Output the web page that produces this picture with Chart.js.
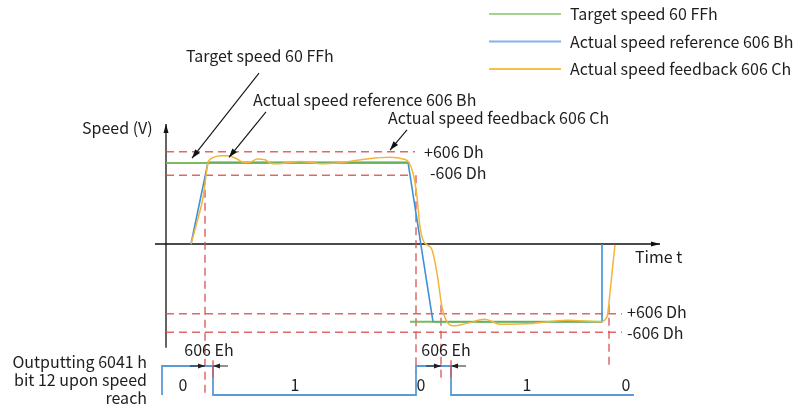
<!DOCTYPE html>
<html>
<head>
<meta charset="utf-8">
<script src="https://cdn.jsdelivr.net/npm/chart.js@4.4.1/dist/chart.umd.min.js"></script>
<style>
  html, body { margin: 0; padding: 0; background: #fff; }
  canvas { display: block; }
</style>
</head>
<body>
<canvas id="c" width="798" height="406"></canvas>
<script>
// ---- data (time in ms, speed in % of target) ----
const targetTime  = [0, 244, 244, 244, 436];
const targetSpeed = [100, 100, null, -96, -96];

const refTime  = [25, 42, 242, 267, 436, 436];
const refSpeed = [0, 101, 101, -96, -96, 0];

const fbTime  = [25, 31, 37, 42, 46, 54, 62, 71, 77, 84, 91, 99, 104, 111, 134, 157, 171, 201, 224, 237, 242, 247, 251, 254, 257, 261, 266, 271, 276, 280, 287, 301, 319, 334, 367, 401, 434, 441, 444, 446, 449];
const fbSpeed = [0, 27, 57, 100, 106, 109, 109, 105, 101, 101, 105, 104, 100, 99, 102, 99, 100, 105, 107, 105, 102, 88, 58, 21, 5, -1, -7, -36, -78, -94, -101, -98, -93, -99, -98, -94, -96, -90, -60, -36, -1];

// speed window thresholds (606 Dh) and where each dashed guide ends
const windowLevel  = [114, 85, -86, -109];
const windowEnd    = [249, 242, 456, 456];
const windowLabels = ['+606 Dh', '-606 Dh', '+606 Dh', '-606 Dh'];

// 6041h bit 12 (speed reached) signal
const bitTime  = [-4, 47, 250, 285, 443, 468];
const bitLevel = [0, 1, 0, 1, 0, 0];
const bitLabels = ['0', '1', '0', '1', '0'];
const bitLabelTime = [17, 129, 255, 361, 460];

// moments the feedback enters / leaves the window
const reachTime = [39, 250, 275, 443];

const seriesNames = ['Target speed 60 FFh', 'Actual speed reference 606 Bh', 'Actual speed feedback 606 Ch'];
const GREEN = '#79bf5c', BLUE = '#3d8fd6', ORANGE = '#f4b43a', RED = 'rgba(214,80,80,0.85)', BITBLUE = '#5b9bd5';
const FONT = '16px "Noto Sans CJK SC", "Noto Sans", sans-serif';
const TEXT = '#1e1e1e';

const pts = (xs, ys) => xs.map((t, i) => ({ x: t, y: ys[i] }));

const datasets = [];
windowLevel.forEach((lv, i) => {
  datasets.push({
    label: windowLabels[i], data: [{ x: 0, y: lv }, { x: windowEnd[i], y: lv }],
    borderColor: RED, borderWidth: 1.5, borderDash: [8, 5], pointRadius: 0, yAxisID: 'y', order: 5
  });
});
datasets.push({ label: seriesNames[1], data: pts(refTime, refSpeed), borderColor: BLUE, borderWidth: 1.6, pointRadius: 0, yAxisID: 'y', order: 3 });
datasets.push({ label: seriesNames[0], data: pts(targetTime, targetSpeed), borderColor: 'rgba(108,180,78,0.9)', borderWidth: 1.8, pointRadius: 0, spanGaps: false, yAxisID: 'y', order: 2 });
datasets.push({ label: seriesNames[2], data: pts(fbTime, fbSpeed), borderColor: ORANGE, borderWidth: 1.5, pointRadius: 0, cubicInterpolationMode: 'monotone', yAxisID: 'y', order: 1 });
datasets.push({ label: 'bit 12', data: pts(bitTime, bitLevel), borderColor: BITBLUE, borderWidth: 1.8, pointRadius: 0, stepped: 'after', yAxisID: 'yBit', order: 4 });

function arrowHead(ctx, x0, y0, x1, y1, len, half) {
  const a = Math.atan2(y1 - y0, x1 - x0);
  ctx.beginPath();
  ctx.moveTo(x1, y1);
  ctx.lineTo(x1 - len * Math.cos(a) + half * Math.sin(a), y1 - len * Math.sin(a) - half * Math.cos(a));
  ctx.lineTo(x1 - len * Math.cos(a) - half * Math.sin(a), y1 - len * Math.sin(a) + half * Math.cos(a));
  ctx.closePath();
  ctx.fill();
}
function arrow(ctx, x0, y0, x1, y1, len = 8, half = 3) {
  ctx.beginPath(); ctx.moveTo(x0, y0); ctx.lineTo(x1, y1); ctx.stroke();
  arrowHead(ctx, x0, y0, x1, y1, len, half);
}
function text(ctx, s, x, y, align = 'left') {
  ctx.textAlign = align; ctx.textBaseline = 'middle'; ctx.fillText(s, x, y);
}

const diagram = {
  id: 'diagram',
  beforeDatasetsDraw(chart) {
    const { ctx, scales: { x, y, yBit } } = chart;
    const X = t => x.getPixelForValue(t), Y = v => y.getPixelForValue(v), B = b => yBit.getPixelForValue(b);
    ctx.save();
    // axes
    ctx.strokeStyle = '#111'; ctx.fillStyle = '#111'; ctx.lineWidth = 1.3;
    arrow(ctx, X(0), Y(-128), X(0), Y(148), 9, 2.5);
    arrow(ctx, X(-11), Y(0), X(494), Y(0), 9, 2.5);
    // vertical reach guides from speed window down to the bit signal
    ctx.strokeStyle = RED; ctx.lineWidth = 1.5; ctx.setLineDash([8, 5]);
    const guideTop = [83, 85, -75, -75];
    const guideBottom = [0.07, 0.76, 0.59, 1.0];
    reachTime.forEach((t, i) => {
      ctx.beginPath(); ctx.moveTo(X(t), Y(guideTop[i])); ctx.lineTo(X(t), B(guideBottom[i])); ctx.stroke();
    });
    ctx.setLineDash([]);
    ctx.restore();
  },
  afterDatasetsDraw(chart) {
    const { ctx, scales: { x, y, yBit } } = chart;
    const X = t => x.getPixelForValue(t), Y = v => y.getPixelForValue(v), B = b => yBit.getPixelForValue(b);
    ctx.save();
    ctx.font = FONT; ctx.fillStyle = TEXT;

    // axis titles
    text(ctx, 'Speed (V)', X(-84), Y(143));
    text(ctx, 'Time t', X(469), Y(-16));

    // window labels
    const wlX = [258, 264, 461, 461];
    const wlV = [114, 88, -84, -110];
    windowLabels.forEach((s, i) => text(ctx, s, X(wlX[i]), Y(wlV[i])));

    // callouts
    ctx.strokeStyle = '#111'; ctx.fillStyle = '#111'; ctx.lineWidth = 1.1;
    arrow(ctx, X(93), Y(211), X(26), Y(106), 9, 3);
    arrow(ctx, X(100), Y(163), X(63), Y(107), 9, 3);
    arrow(ctx, X(241), Y(141), X(224), Y(116), 9, 3);
    ctx.fillStyle = TEXT;
    text(ctx, seriesNames[0], X(20), Y(232));
    text(ctx, seriesNames[1], X(87), Y(178));
    text(ctx, seriesNames[2], X(222), Y(156));

    // 606 Eh delay markers
    ctx.strokeStyle = '#222'; ctx.fillStyle = '#222'; ctx.lineWidth = 1;
    const eh = [[39, 47], [275, 285]];
    eh.forEach(([a, b]) => {
      const yy = B(1.0);
      arrow(ctx, X(a - 15), yy, X(a), yy, 7, 2.5);
      arrow(ctx, X(b + 15), yy, X(b), yy, 7, 2.5);
      ctx.save();
      ctx.strokeStyle = RED; ctx.lineWidth = 1.5;
      ctx.beginPath(); ctx.moveTo(X(b), B(1.2)); ctx.lineTo(X(b), B(0.6)); ctx.stroke();
      ctx.restore();
      ctx.fillStyle = TEXT;
      text(ctx, '606 Eh', X((a + b) / 2), B(1.55), 'center');
    });

    // bit values
    bitLabels.forEach((s, i) => text(ctx, s, X(bitLabelTime[i]), B(0.35), 'center'));

    // signal caption
    text(ctx, 'Outputting 6041 h', X(-19), B(1.14), 'right');
    text(ctx, 'bit 12 upon speed', X(-19), B(0.52), 'right');
    text(ctx, 'reach', X(-19), B(-0.1), 'right');

    // legend
    const ca = chart.chartArea;
    const legendColors = ['#a3d38c', '#7fb4e3', '#f7bf45'];
    seriesNames.forEach((s, i) => {
      const ly = ca.top + 14 + i * 27.5;
      ctx.strokeStyle = legendColors[i]; ctx.lineWidth = 1.8;
      ctx.beginPath(); ctx.moveTo(ca.left + 489, ly); ctx.lineTo(ca.left + 561, ly); ctx.stroke();
      ctx.fillStyle = TEXT;
      text(ctx, s, ca.left + 570, ly);
    });
    ctx.restore();
  }
};

new Chart(document.getElementById('c'), {
  type: 'line',
  data: { datasets },
  options: {
    responsive: false,
    animation: false,
    devicePixelRatio: 1,
    layout: { padding: 0 },
    plugins: { legend: { display: false }, tooltip: { enabled: false } },
    elements: { line: { tension: 0 } },
    scales: {
      x: { type: 'linear', min: -166, max: 632, display: false },
      y: { type: 'linear', min: -200, max: 301.23, display: false },
      yBit: { type: 'linear', min: -0.379, max: 13.621, display: false }
    }
  },
  plugins: [diagram]
});
</script>
</body>
</html>
